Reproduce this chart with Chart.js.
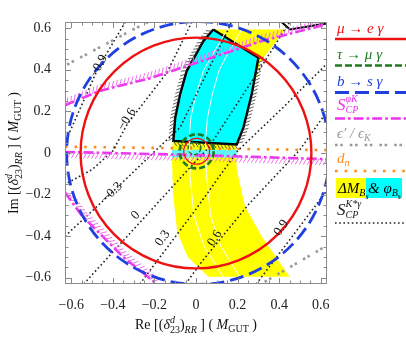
<!DOCTYPE html>
<html>
<head>
<meta charset="utf-8">
<script src="https://cdn.jsdelivr.net/npm/chart.js@4.4.1/dist/chart.umd.min.js"></script>
<style>
  html, body { margin: 0; padding: 0; background: #fff; }
</style>
</head>
<body>
<canvas id="chart" width="406" height="343"></canvas>
<script>
const AXIS_MIN = -0.63, AXIS_MAX = 0.63;
const majorTicks = [-0.6, -0.4, -0.2, 0, 0.2, 0.4, 0.6];

// circles: centre x, centre y, radius
const muEgCx = [0];
const muEgCy = [0];
const muEgR = [0.555];
const muEgSmallCx = [0.003];
const muEgSmallCy = [0.008];
const muEgSmallR = [0.062];
const tauCx = [0.003];
const tauCy = [0.008];
const tauR = [0.082];
const tauSmallCx = [-0.008];
const tauSmallCy = [0.022];
const tauSmallR = [0.03];
const bsgCx = [0.01];
const bsgCy = [0];
const bsgR = [0.632];

// Delta M_Bs band
const yellowX = [0.083, 0.035, 0.0, -0.045, -0.077, -0.100, -0.112, -0.115, -0.110, -0.090, -0.040, 0.060, 0.450, 0.316, 0.236, 0.196, 0.192, 0.228, 0.268, 0.310, 0.430, 0.083];
const yellowY = [0.594, 0.538, 0.474, 0.394, 0.280, 0.170, 0.060, -0.050, -0.200, -0.380, -0.500, -0.595, -0.595, -0.400, -0.257, -0.080, 0.040, 0.122, 0.282, 0.440, 0.594, 0.594];
// phi_Bs region
const cyanX = [0.083, 0.300, 0.268, 0.228, 0.196, -0.109, -0.100, -0.077, -0.045, 0.000, 0.035, 0.083];
const cyanY = [0.594, 0.458, 0.282, 0.122, 0.041, 0.058, 0.170, 0.280, 0.394, 0.474, 0.538, 0.594];
const stripX = [-0.115, 0.196, 0.196, -0.115, -0.115];
const stripY = [0.016, 0.016, -0.022, -0.022, 0.016];
const whiteY = [0.594, 0.474, 0.394, 0.28, 0.17, 0.06, -0.1, -0.3, -0.45, -0.595];
const whiteAX = [0.15, 0.08, 0.035, 0.0, -0.025, -0.033, -0.03, -0.01, 0.04, 0.13];
const whiteBX = [0.22, 0.15, 0.11, 0.078, 0.055, 0.046, 0.05, 0.07, 0.12, 0.21];
const edgeX = [0.40, 0.452, 0.64];
const edgeY = [0.64, 0.594, 0.625];

// S_CP^phiK
const sphiUpX = [-0.63, -0.46, -0.22, 0.02, 0.32, 0.63];
const sphiUpY = [0.23, 0.30, 0.36, 0.44, 0.54, 0.62];
const sphiMidX = [-0.63, 0, 0.63];
const sphiMidY = [0.005, -0.01, -0.03];
const sphiLowX = [-0.63, -0.55, -0.45, -0.35, -0.25, -0.19];
const sphiLowY = [-0.19, -0.30, -0.40, -0.50, -0.58, -0.63];
// eps'/eps_K
const epsUpX = [-0.62, -0.30, -0.22];
const epsUpY = [0.425, 0.595, 0.635];
const epsLoX = [0.33, 0.63];
const epsLoY = [-0.62, -0.445];
// d_n
const dnX = [-0.63, 0.63];
const dnY = [0.03, 0.014];

// S_CP^K*gamma contours
const skValues = ['\u22120.9', '\u22120.6', '\u22120.3', '0', '0.3', '0.6', '0.9'];
const skLinesX = [
  [-0.34, -0.47, -0.63],
  [-0.02, -0.14, -0.33, -0.40, -0.50, -0.63],
  [-0.63, -0.404, -0.19, -0.077, 0.155, 0.17],
  [-0.54, -0.02, 0.06, 0.33, 0.45],
  [-0.27, 0, 0.2, 0.42, 0.63],
  [-0.05, 0.03, 0.25, 0.5, 0.63],
  [0.29, 0.63]
];
const skLinesY = [
  [0.63, 0.41, 0.05],
  [0.63, 0.386, 0.14, 0.01, -0.08, -0.15],
  [-0.40, -0.19, 0.016, 0.122, 0.594, 0.63],
  [-0.63, -0.06, 0.025, 0.44, 0.63],
  [-0.63, -0.27, 0.01, 0.22, 0.43],
  [-0.63, -0.52, -0.25, 0.016, 0.2],
  [-0.63, -0.18]
];
const skLabelX = [-0.468, -0.332, -0.404, -0.29, -0.16, 0.09, 0.41];
const skLabelY = [0.418, 0.162, -0.19, -0.30, -0.41, -0.41, -0.36];
const skLabelRot = [-62, -58, -45, -48, -55, -57, -55];

const RED = '#ee1111', GREEN = '#1f7a1f', BLUE = '#1f3fe0', MAGENTA = '#ee33ee',
      GRAY = '#9a9a9a', ORANGE = '#ff8c1a', YELLOW = '#ffff00', CYAN = '#00ffff', DOTS = '#222222';
const SERIF = '"Liberation Serif", "DejaVu Serif", serif';

const pts = (xs, ys) => xs.map((x, i) => ({ x, y: ys[i] }));

function curve(label, xs, ys, color, width, dash, order, extra) {
  return Object.assign({
    type: 'line', label, order, clip: 0,
    data: pts(xs, ys),
    borderColor: color, borderWidth: width, borderDash: dash || [],
    pointRadius: 0, pointHoverRadius: 0, fill: false, tension: 0
  }, extra || {});
}

// circle radius is given in delta units and turned into pixels by the x scale
function circles(label, cx, cy, r, color, width, dash, order) {
  return {
    type: 'scatter', label, order, clip: 0, showLine: false,
    data: pts(cx, cy), rad: r, dash,
    pointBackgroundColor: 'rgba(0,0,0,0)', pointBorderColor: color, pointBorderWidth: width,
    pointHoverBorderWidth: width, pointHoverRadius: 0,
    pointRadius: c => {
      const s = c.chart.scales.x;
      if (!s || !s.width) return 0;
      return Math.abs(s.getPixelForValue(c.dataset.rad[c.dataIndex]) - s.getPixelForValue(0));
    }
  };
}

const datasets = [
  curve('yellow', yellowX, yellowY, YELLOW, 0, [], 30, { fill: 'shape', backgroundColor: YELLOW }),
  curve('strip', stripX, stripY, CYAN, 0, [], 29, { fill: 'shape', backgroundColor: '#5ff8f8' }),
  curve('cyan', cyanX, cyanY, '#000', 2.4, [], 28, { fill: 'shape', backgroundColor: CYAN,
    hatch: { color: '#333', width: 0.8, len: 6, step: 3.6, angle: -125, from: 1 } }),
  curve('whiteA', whiteAX, whiteY, '#fff', 1, [], 27),
  curve('whiteB', whiteBX, whiteY, '#fff', 1, [], 27),
  curve('edge', edgeX, edgeY, '#000', 2, [], 26),
  curve('dn', dnX, dnY, ORANGE, 2.6, [2.6, 7], 20),
  curve('epsUp', epsUpX, epsUpY, GRAY, 2.6, [2.6, 2.6, 2.6, 7], 19),
  curve('epsLo', epsLoX, epsLoY, GRAY, 2.6, [2.6, 2.6, 2.6, 7], 19)
];
skLinesX.forEach((xs, i) => datasets.push(curve('sk' + i, xs, skLinesY[i], DOTS, 1.6, [1.6, 2.6], 18)));
datasets.push(
  curve('sphiUp', sphiUpX, sphiUpY, MAGENTA, 2.6, [10, 3, 2.6, 3], 12,
    { hatch: { color: '#f070f0', width: 1, len: 7, step: 4, angle: -60 } }),
  curve('sphiMid', sphiMidX, sphiMidY, MAGENTA, 2.6, [10, 3, 2.6, 3], 12,
    { hatch: { color: '#f070f0', width: 1, len: 7, step: 4, angle: 120 } }),
  curve('sphiLow', sphiLowX, sphiLowY, MAGENTA, 2.6, [10, 3, 2.6, 3], 12,
    { hatch: { color: '#f070f0', width: 1, len: 7, step: 4, angle: -60 } }),
  circles('bsg', bsgCx, bsgCy, bsgR, BLUE, 2.8, [14, 6], 6),
  circles('mueg', muEgCx, muEgCy, muEgR, RED, 2.4, null, 5),
  circles('muegSmall', muEgSmallCx, muEgSmallCy, muEgSmallR, RED, 1.2, null, 5),
  circles('taumug', tauCx, tauCy, tauR, GREEN, 2.6, [6, 3], 4),
  circles('taumugSmall', tauSmallCx, tauSmallCy, tauSmallR, GREEN, 1.4, [4, 2], 4)
);

// dashes for circle outlines, hatch marks along lines
const styling = {
  id: 'styling',
  beforeDatasetDraw(chart, args) {
    const ds = chart.data.datasets[args.index];
    if (ds.dash) chart.ctx.setLineDash(ds.dash);
  },
  afterDatasetDraw(chart, args) {
    const ctx = chart.ctx;
    ctx.setLineDash([]);
    const h = chart.data.datasets[args.index].hatch;
    if (!h) return;
    const a = chart.chartArea;
    const p = args.meta.data;
    ctx.save();
    ctx.beginPath();
    ctx.rect(a.left, a.top, a.right - a.left, a.bottom - a.top);
    ctx.clip();
    ctx.strokeStyle = h.color;
    ctx.lineWidth = h.width;
    const th = h.angle * Math.PI / 180, c = Math.cos(th), s = Math.sin(th);
    let carry = h.step / 2;
    ctx.beginPath();
    for (let k = h.from || 0; k < p.length - 1; k++) {
      const dx = p[k + 1].x - p[k].x, dy = p[k + 1].y - p[k].y, L = Math.hypot(dx, dy);
      if (!L) continue;
      const tx = dx / L, ty = dy / L;
      const hx = (tx * c - ty * s) * h.len, hy = (tx * s + ty * c) * h.len;
      let d = carry;
      for (; d < L; d += h.step) {
        const x = p[k].x + tx * d, y = p[k].y + ty * d;
        ctx.moveTo(x, y);
        ctx.lineTo(x + hx, y + hy);
      }
      carry = d - L;
    }
    ctx.stroke();
    ctx.restore();
  }
};

function rich(ctx, x0, y, parts, draw) {
  let x = x0, prevStart = x0, prevEnd = x0;
  for (const p of parts) {
    ctx.font = (p.it ? 'italic ' : '') + p.sz + 'px ' + SERIF;
    const w = ctx.measureText(p.t).width;
    const start = p.stack ? prevStart : x;
    if (draw) ctx.fillText(p.t, start, y + (p.dy || 0));
    const end = start + w;
    x = p.stack ? Math.max(prevEnd, end) : end;
    prevStart = start;
    prevEnd = x;
  }
  return x - x0;
}

const titleParts = head => [
  { t: head + ' [(', sz: 14 }, { t: '\u03b4', it: 1, sz: 14 },
  { t: 'd', it: 1, sz: 10, dy: -6 }, { t: '23', sz: 10, dy: 4, stack: 1 },
  { t: ')', sz: 14 }, { t: 'RR', it: 1, sz: 10, dy: 4 },
  { t: ' ] ( ', sz: 14 }, { t: 'M', it: 1, sz: 14 }, { t: 'GUT', sz: 10, dy: 3 }, { t: ' )', sz: 14 }
];

const legendRows = [
  { parts: [{ t: '\u03bc \u2192 e \u03b3', it: 1, sz: 15 }], color: RED, ty: 33, ly: 39, w: 2.4, dash: [] },
  { parts: [{ t: '\u03c4 \u2192 \u03bc \u03b3', it: 1, sz: 15 }], color: GREEN, ty: 59, ly: 65.5, w: 2.6, dash: [7, 3] },
  { parts: [{ t: 'b \u2192 s \u03b3', it: 1, sz: 15 }], color: BLUE, ty: 86, ly: 92.5, w: 2.8, dash: [14, 6] },
  { parts: [{ t: 'S', it: 1, sz: 17 }, { t: '\u03c6K', it: 1, sz: 10, dy: -8 }, { t: 'CP', it: 1, sz: 10, dy: 3, stack: 1 }],
    color: MAGENTA, ty: 110, ly: 118.5, w: 2.6, dash: [10, 3, 2.6, 3] },
  { parts: [{ t: '\u03f5\u2032 / \u03f5', it: 1, sz: 15 }, { t: 'K', it: 1, sz: 10, dy: 3 }],
    color: GRAY, ty: 138, ly: 145, w: 2.6, dash: [2.6, 2.6, 2.6, 7] },
  { parts: [{ t: 'd', it: 1, sz: 15 }, { t: 'n', it: 1, sz: 10, dy: 3 }], color: ORANGE, ty: 163, ly: 171, w: 2.6, dash: [2.6, 7] },
  { parts: [{ t: 'S', it: 1, sz: 17 }, { t: 'K*\u03b3', it: 1, sz: 10, dy: -8 }, { t: 'CP', it: 1, sz: 10, dy: 3, stack: 1 }],
    color: DOTS, ty: 215, ly: 223, w: 1.6, dash: [1.6, 2.6] }
];

const decor = {
  id: 'decor',
  afterDatasetsDraw(chart) {
    const { ctx, chartArea: a, scales: { x, y } } = chart;
    ctx.save();
    // contour labels
    ctx.fillStyle = '#111';
    ctx.font = '13px ' + SERIF;
    ctx.textAlign = 'center';
    ctx.textBaseline = 'middle';
    skValues.forEach((t, i) => {
      ctx.save();
      ctx.translate(x.getPixelForValue(skLabelX[i]), y.getPixelForValue(skLabelY[i]));
      ctx.rotate(skLabelRot[i] * Math.PI / 180);
      ctx.fillText(t, 0, 0);
      ctx.restore();
    });
    // frame and inward ticks
    ctx.strokeStyle = '#8a8a8a';
    ctx.lineWidth = 1;
    ctx.strokeRect(a.left + 0.5, a.top + 0.5, a.right - a.left - 1, a.bottom - a.top - 1);
    ctx.beginPath();
    x.ticks.forEach(t => {
      const px = Math.round(x.getPixelForValue(t.value)) + 0.5;
      const len = majorTicks.some(m => Math.abs(m - t.value) < 1e-6) ? 6 : 3.5;
      ctx.moveTo(px, a.bottom); ctx.lineTo(px, a.bottom - len);
      ctx.moveTo(px, a.top); ctx.lineTo(px, a.top + len);
    });
    y.ticks.forEach(t => {
      const py = Math.round(y.getPixelForValue(t.value)) + 0.5;
      const len = majorTicks.some(m => Math.abs(m - t.value) < 1e-6) ? 6 : 3.5;
      ctx.moveTo(a.left, py); ctx.lineTo(a.left + len, py);
      ctx.moveTo(a.right, py); ctx.lineTo(a.right - len, py);
    });
    ctx.stroke();
    ctx.restore();
  },
  afterDraw(chart) {
    const { ctx, chartArea: a } = chart;
    ctx.save();
    ctx.textAlign = 'left';
    ctx.textBaseline = 'alphabetic';
    // axis titles
    ctx.fillStyle = '#111';
    const xp = titleParts('Re');
    const xw = rich(ctx, 0, 0, xp, false);
    rich(ctx, (a.left + a.right) / 2 - xw / 2, 329, xp, true);
    const yp = titleParts('Im');
    const yw = rich(ctx, 0, 0, yp, false);
    ctx.save();
    ctx.translate(18, (a.top + a.bottom) / 2);
    ctx.rotate(-Math.PI / 2);
    rich(ctx, -yw / 2, 0, yp, true);
    ctx.restore();
    // legend
    legendRows.forEach(r => {
      ctx.fillStyle = r.color;
      rich(ctx, 337, r.ty, r.parts, true);
      ctx.strokeStyle = r.color;
      ctx.lineWidth = r.w;
      ctx.setLineDash(r.dash);
      ctx.beginPath();
      ctx.moveTo(335, r.ly);
      ctx.lineTo(406, r.ly);
      ctx.stroke();
    });
    ctx.setLineDash([]);
    ctx.fillStyle = YELLOW;
    ctx.fillRect(336, 178, 30, 20);
    ctx.fillStyle = CYAN;
    ctx.fillRect(366, 178, 36, 20);
    ctx.fillStyle = '#000';
    rich(ctx, 338, 193, [{ t: '\u0394M', it: 1, sz: 15 }, { t: 'B', it: 1, sz: 10, dy: 3 }, { t: 's', it: 1, sz: 8, dy: 6 }], true);
    rich(ctx, 368, 193, [{ t: '& \u03c6', it: 1, sz: 15 }, { t: 'B', it: 1, sz: 10, dy: 3 }, { t: 's', it: 1, sz: 8, dy: 6 }], true);
    ctx.restore();
  }
};

const tickValues = [];
for (let k = -12; k <= 12; k++) tickValues.push(k * 0.05);
const tickLabel = v => {
  const m = majorTicks.find(t => Math.abs(t - v) < 1e-6);
  if (m === undefined) return '';
  return m === 0 ? '0' : m.toFixed(1).replace('-', '\u2212');
};
const tickFont = { family: SERIF, size: 14 };

new Chart(document.getElementById('chart'), {
  type: 'scatter',
  data: { datasets },
  options: {
    responsive: false,
    animation: false,
    devicePixelRatio: 1,
    events: [],
    layout: { autoPadding: false, padding: { top: 22, right: 79, left: 0, bottom: 0 } },
    plugins: { legend: { display: false }, tooltip: { enabled: false } },
    scales: {
      x: {
        type: 'linear', min: AXIS_MIN, max: AXIS_MAX,
        afterFit: s => { s.height = 59; },
        afterBuildTicks: s => { s.ticks = tickValues.map(v => ({ value: v })); },
        grid: { display: false }, border: { display: false },
        ticks: { autoSkip: false, maxRotation: 0, padding: 5, color: '#222', font: tickFont, callback: tickLabel }
      },
      y: {
        type: 'linear', min: AXIS_MIN, max: AXIS_MAX,
        afterFit: s => { s.width = 65; },
        afterBuildTicks: s => { s.ticks = tickValues.map(v => ({ value: v })); },
        grid: { display: false }, border: { display: false },
        ticks: { autoSkip: false, padding: 6, color: '#222', font: tickFont, callback: tickLabel }
      }
    }
  },
  plugins: [styling, decor]
});
</script>
</body>
</html>
